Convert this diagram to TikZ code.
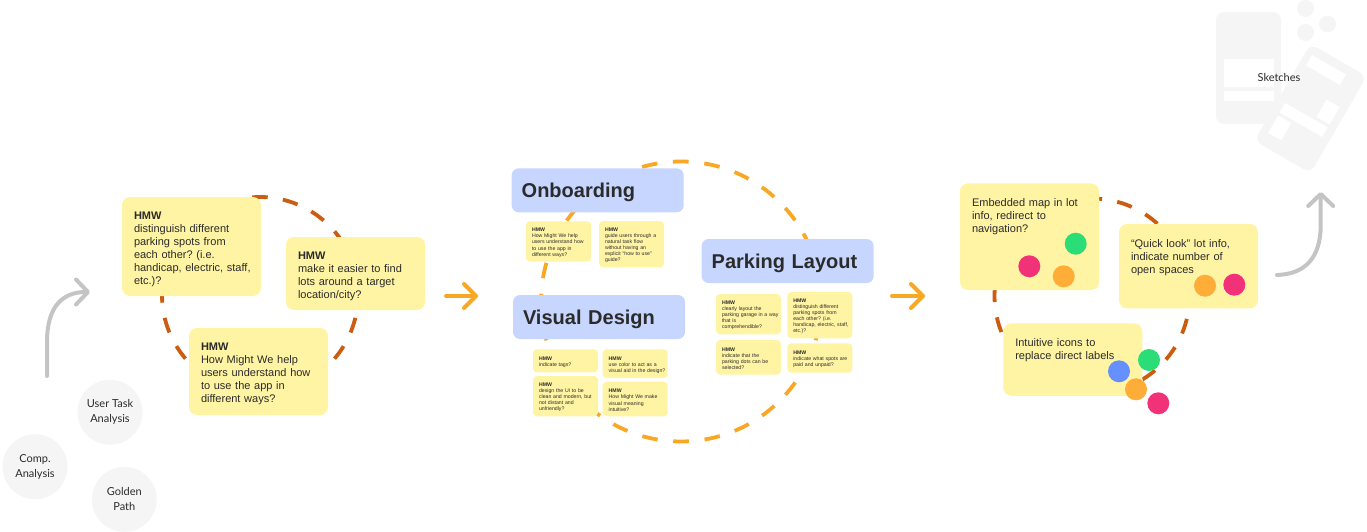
\documentclass[tikz,border=0pt]{standalone}
\usepackage{fontspec}
\setmainfont{Liberation Sans}
\newfontfamily\labelfont{Lato}
\usetikzlibrary{arrows.meta}
\definecolor{notefill}{HTML}{FFF4A3}
\definecolor{titlefill}{HTML}{C7D6FF}
\definecolor{ringdark}{HTML}{CB5C10}
\definecolor{ringlight}{HTML}{F9A825}
\definecolor{paleback}{HTML}{F5F5F5}
\definecolor{arrowgray}{HTML}{C4C4C4}
\definecolor{inkdark}{HTML}{2B2B2B}
\definecolor{dotgreen}{HTML}{2BDD77}
\definecolor{dotpink}{HTML}{F23278}
\definecolor{dotorange}{HTML}{FFAD39}
\definecolor{dotblue}{HTML}{6690FF}
\newcommand{\hmwhead}{\rule{0pt}{1.15em}\textbf{HMW}}
\frenchspacing
\tikzset{
	bignote/.style={fill=notefill,rounded corners=8pt,anchor=north west,inner sep=0pt,outer sep=0pt,minimum width=139pt,text width=115pt,align=left,text=inkdark,font=\fontsize{11}{13}\selectfont},
	smallnote/.style={fill=notefill,rounded corners=4pt,anchor=north west,inner sep=0pt,outer sep=0pt,minimum width=65pt,text width=53pt,align=left,text=inkdark,font=\fontsize{5.2}{6.1}\selectfont},
	titlebox/.style={fill=titlefill,rounded corners=7pt,anchor=north west,inner sep=0pt,outer sep=0pt,minimum width=172pt,minimum height=44pt,text width=152pt,align=left,text=inkdark,font=\fontsize{20}{24}\selectfont\bfseries,execute at begin node={\rule{0pt}{0.95em}}},
	softcircle/.style={circle,fill=paleback,minimum size=65pt,inner sep=0pt,align=center,text=inkdark,font=\labelfont\fontsize{11}{15}\selectfont,execute at begin node={\rule{0pt}{13.5pt}}},
	darkring/.style={draw=ringdark,line width=3.8pt,dash pattern=on 15.4pt off 15.39pt,dash phase=7.7pt},
	lightring/.style={draw=ringlight,line width=3.8pt,dash pattern=on 15.7pt off 15.71pt,dash phase=7.85pt},
	grayarrow/.style={draw=arrowgray,line width=4pt,line cap=round,-{Straight Barb[length=12pt,width=25pt,round]}},
	orangearrow/.style={draw=ringlight,line width=4pt,line cap=round,-{Straight Barb[length=12pt,width=24pt,round]}},
	dot/.style={circle,fill=#1,minimum size=22pt,inner sep=0pt},
	paleshape/.style={fill=paleback,rounded corners=8pt,inner sep=0pt},
	whiteslot/.style={fill=white,inner sep=0pt}
}
\begin{document}
\begin{tikzpicture}[x=1pt,y=-1pt]
	\useasboundingbox (0,0) rectangle (1367,532);
	% rings first, the notes sit on top of them
	\draw[darkring] (260,295) circle (98);
	\draw[lightring] (681,301.5) circle (140);
	\draw[darkring] (1092,296) circle (97.5);

	% research
	\node[softcircle] (comp) at (35,466.7) {Comp.\\Analysis};
	\node[softcircle] (usertask) at (110,412.3) {User Task\\Analysis};
	\node[softcircle] (golden) at (124.3,499.3) {Golden\\Path};
	\coordinate (researchstart) at (47,376);
	\coordinate (researchend) at (90,292);
	\draw[grayarrow] (researchstart) -- (47,342) .. controls (47,307) and (62,292) .. (researchend);

	% first round of notes
	\node[bignote,minimum height=99pt] (spots) at (122,197) {\hmwhead\\distinguish different\\parking spots from\\each other? (i.e.\\\mbox{handicap, electric, staff,}\\etc.)?};
	\node[bignote,minimum height=73pt] (lots) at (286,237) {\hmwhead\\make it easier to find\\lots around a target\\location/city?};
	\node[bignote,minimum height=87pt] (howuse) at (189,328) {\hmwhead\\How Might We help\\users understand how\\to use the app in\\different ways?};

	\coordinate (firststart) at (446,296);
	\coordinate (firstend) at (478,296);
	\draw[orangearrow] (firststart) -- (firstend);

	% grouped notes
	\node[titlebox] (onboarding) at (511.7,168.3) {Onboarding};
	\node[smallnote,minimum height=40.4pt] (onb1) at (526,221.3) {\hmwhead\\How Might We help\\users understand how\\to use the app in\\different ways?};
	\node[smallnote,minimum height=46.3pt] (onb2) at (599,221) {\hmwhead\\guide users through a\\natural task flow\\without having an\\explicit ``how to use''\\guide?};

	\node[titlebox] (visual) at (513,295) {Visual Design};
	\node[smallnote,minimum height=23pt] (vis1) at (533,349.3) {\hmwhead\\indicate tags?};
	\node[smallnote,minimum height=28.7pt] (vis2) at (602.7,349.3) {\hmwhead\\use color to act as a\\\mbox{visual aid in the design?}};
	\node[smallnote,minimum height=40.3pt] (vis3) at (533,376) {\hmwhead\\design the UI to be\\\mbox{clean and modern, but}\\not distant and\\unfriendly?};
	\node[smallnote,minimum height=34.6pt] (vis4) at (602.7,381.7) {\hmwhead\\How Might We make\\visual meaning\\intuitive?};

	\node[titlebox] (parking) at (701.7,239) {Parking Layout};
	\node[smallnote,minimum height=40.3pt] (par1) at (716,294) {\hmwhead\\clearly layout the\\\mbox{parking garage in a way}\\that is\\comprehendible?};
	\node[smallnote,minimum height=46.3pt] (par2) at (787.3,292) {\hmwhead\\distinguish different\\parking spots from\\each other? (i.e.\\\mbox{handicap, electric, staff,}\\etc.)?};
	\node[smallnote,minimum height=34.7pt] (par3) at (716,340) {\hmwhead\\indicate that the\\parking dots can be\\selected?};
	\node[smallnote,minimum height=29.4pt] (par4) at (787.3,343.3) {\hmwhead\\\mbox{indicate what spots are}\\paid and unpaid?};

	\coordinate (secondstart) at (892,296);
	\coordinate (secondend) at (925,296);
	\draw[orangearrow] (secondstart) -- (secondend);

	% voted ideas
	\node[bignote,text height=23pt,text depth=83.7pt] (embedded) at (960,183.3) {Embedded map in lot\\info, redirect to\\navigation?};
	\node[bignote,text height=23pt,text depth=61.3pt] (quicklook) at (1119,224) {``Quick look'' lot info,\\indicate number of\\open spaces};
	\node[bignote,text height=23pt,text depth=49.5pt] (icons) at (1003.3,323.3) {Intuitive icons to\\replace direct labels};

	\node[dot=dotgreen] (vote1) at (1075.7,243.7) {};
	\node[dot=dotpink] (vote2) at (1029.3,266.3) {};
	\node[dot=dotorange] (vote3) at (1063.7,276.3) {};
	\node[dot=dotorange] (vote4) at (1205,285.7) {};
	\node[dot=dotpink] (vote5) at (1234.3,284.7) {};
	\node[dot=dotgreen] (vote6) at (1149,360) {};
	\node[dot=dotblue] (vote7) at (1119,371.3) {};
	\node[dot=dotorange] (vote8) at (1136,389.3) {};
	\node[dot=dotpink] (vote9) at (1158.3,403.3) {};

	\coordinate (thirdstart) at (1277,275);
	\coordinate (thirdend) at (1320.7,192);
	\draw[grayarrow] (thirdstart) .. controls (1305,274) and (1320.7,258) .. (1320.7,225) -- (thirdend);

	% sketches
	\node[paleshape,minimum width=65pt,minimum height=112pt] (phoneback) at (1248.5,68) {};
	\node[whiteslot,minimum width=50pt,minimum height=28pt] (slotA) at (1249,73) {};
	\node[whiteslot,minimum width=50pt,minimum height=10pt] (slotB) at (1249,96) {};
	\node[paleshape,minimum width=65pt,minimum height=112pt,rotate=-30] (phonefront) at (1310.5,108.5) {};
	\node[whiteslot,minimum width=39pt,minimum height=12pt,rotate=-30] (slotC) at (1326,70) {};
	\node[whiteslot,minimum width=49pt,minimum height=11pt,rotate=-30] (slotD) at (1303.7,120) {};
	\node[whiteslot,minimum width=15pt,minimum height=20pt,rotate=-30] (slotE) at (1328,112) {};
	\node[whiteslot,minimum width=15pt,minimum height=20pt,rotate=-30] (slotF) at (1279.7,128) {};
	\node[circle,fill=paleback,minimum size=17pt,inner sep=0pt] (bubbleA) at (1305.5,8.5) {};
	\node[circle,fill=paleback,minimum size=17pt,inner sep=0pt] (bubbleB) at (1327.5,24) {};
	\node[circle,fill=paleback,minimum size=17pt,inner sep=0pt] (bubbleC) at (1305.5,32.5) {};
	\node[text=inkdark,font=\labelfont\fontsize{11}{13}\selectfont] (sketches) at (1279,77) {Sketches};
\end{tikzpicture}
\end{document}
